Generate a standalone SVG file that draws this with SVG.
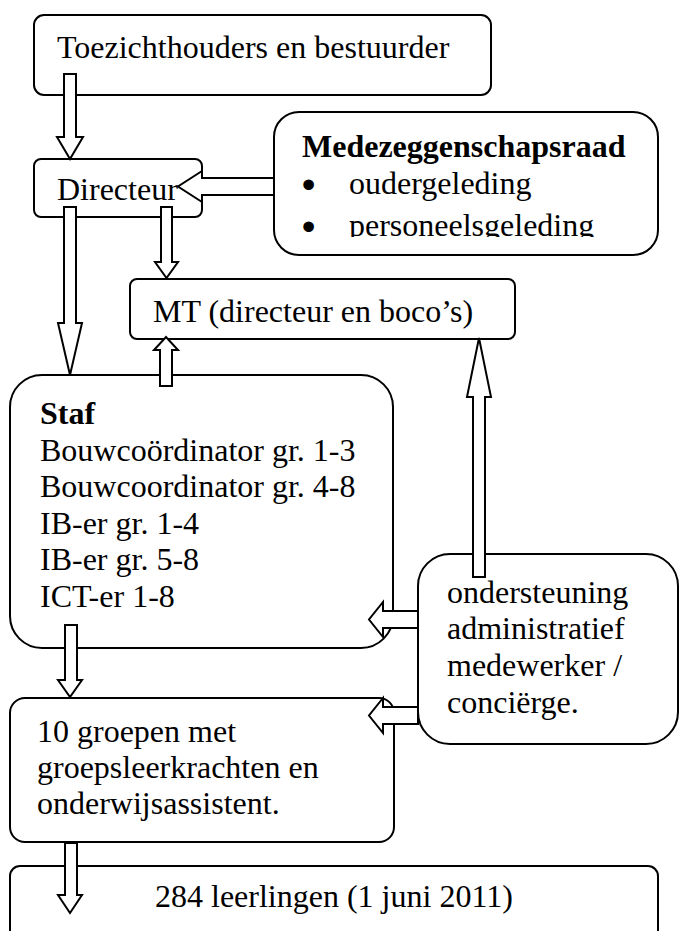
<svg xmlns="http://www.w3.org/2000/svg" width="680" height="931" viewBox="0 0 680 931">
<style>
.box{fill:#fff;stroke:#000;stroke-width:2}
.arr{fill:#fff;stroke:#000;stroke-width:2;stroke-linejoin:miter}
text{font-family:"Liberation Serif","Times New Roman",serif;font-size:32px;fill:#000}
.b{font-weight:bold}
.bul{stroke:#000;stroke-width:3}
</style>
<defs>
<clipPath id="mrclip"><rect x="270" y="100" width="400" height="137"/></clipPath>
</defs>
<rect width="680" height="931" fill="#fff"/>
<g id="n-toezicht">
<rect class="box" x="34" y="15" width="457" height="80" rx="10"/>
<text x="57" y="58">Toezichthouders en bestuurder</text>
</g>
<g id="n-directeur">
<rect class="box" x="34" y="159" width="168" height="58" rx="7"/>
<text x="57" y="200">Directeur</text>
</g>
<g id="n-mr">
<rect class="box" x="274" y="112" width="384" height="143" rx="25"/>
<text class="b" x="302" y="157">Medezeggenschapsraad</text>
<g clip-path="url(#mrclip)">
<text class="bul" x="303" y="196">•</text>
<text x="349" y="194">oudergeleding</text>
<text class="bul" x="303" y="237.5">•</text>
<text x="349" y="236">personeelsgeleding</text>
</g>
</g>
<g id="n-mt">
<rect class="box" x="130" y="279" width="385" height="60" rx="7"/>
<text x="153" y="322">MT (directeur en boco’s)</text>
</g>
<g id="n-staf">
<rect class="box" x="10" y="375" width="383" height="273" rx="32"/>
<text class="b" x="40" y="424">Staf</text>
<text x="40" y="460.5">Bouwcoördinator gr. 1-3</text>
<text x="40" y="497">Bouwcoordinator gr. 4-8</text>
<text x="40" y="533.5">IB-er gr. 1-4</text>
<text x="40" y="570">IB-er gr. 5-8</text>
<text x="40" y="607">ICT-er 1-8</text>
</g>
<g id="n-ondersteuning">
<rect class="box" x="418" y="554" width="260" height="190" rx="32"/>
<text x="447" y="602.5">ondersteuning</text>
<text x="447" y="639">administratief</text>
<text x="447" y="676">medewerker /</text>
<text x="447" y="712.5">conciërge.</text>
</g>
<g id="n-groepen">
<rect class="box" x="10" y="698" width="384" height="144" rx="15"/>
<text x="37" y="742">10 groepen met</text>
<text x="37" y="778">groepsleerkrachten en</text>
<text x="37" y="814">onderwijsassistent.</text>
</g>
<g id="n-leerlingen">
<rect class="box" x="10" y="866" width="648" height="90" rx="10"/>
<text x="155" y="907">284 leerlingen (1 juni 2011)</text>
</g>
<g id="connectors">
<polygon class="arr" points="64,74 76,74 76,137 83,137 70,159 57,137 64,137"/>
<polygon class="arr" points="274,178 202,178 202,171 178,186.5 202,202 202,195 274,195"/>
<polygon class="arr" points="161,207 172,207 172,262 178,262 166.5,278 155,262 161,262"/>
<polygon class="arr" points="64,207 76,207 76,323 82,323 70,375 58,323 64,323"/>
<polygon class="arr" points="160,386 172,386 172,350 178,350 166,337 154,350 160,350"/>
<polygon class="arr" points="473,577 485,577 485,397 491,397 479,338 467,397 473,397"/>
<polygon class="arr" points="418,611 383,611 383,602 369,619.5 383,637 383,628 418,628"/>
<polygon class="arr" points="418,707 383,707 383,698 369,715.5 383,733 383,724 418,724"/>
<polygon class="arr" points="65,625 77,625 77,680 82,680 70,697 58,680 65,680"/>
<polygon class="arr" points="65,843 77,843 77,895 82,895 70,913 58,895 65,895"/>
</g>
</svg>
